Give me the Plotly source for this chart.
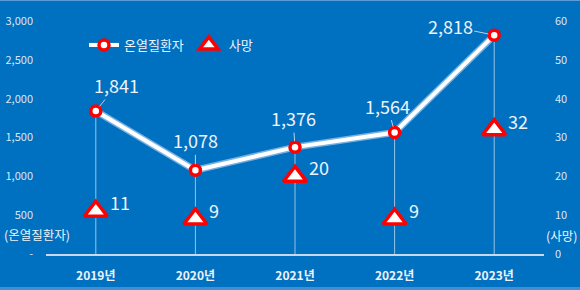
import plotly.graph_objects as go

years = ["2019년", "2020년", "2021년", "2022년", "2023년"]
patients = [1841, 1078, 1376, 1564, 2818]
deaths = [11, 9, 20, 9, 32]
left_ticks = [0, 500, 1000, 1500, 2000, 2500, 3000]
left_ticktext = ["-", "500", "1,000", "1,500", "2,000", "2,500", "3,000"]
right_ticks = [0, 10, 20, 30, 40, 50, 60]

# label offsets (pixels) for patient labels
lab_ax = [21, 0, -2, -7, -44]
lab_ay = [-26, -30, -29, -27, -9]

BG = "#0070C0"
FONT = "Noto Sans CJK KR"
TXT = "#EEF3FA"

W, H = 580, 290
ml, mr, mt, mb = 46, 36, 21, 36
pw, ph = W - ml - mr, H - mt - mb
def px(x): return (x - ml) / pw
def py(y): return (H - mb - y) / ph

fig = go.Figure()

# drop lines
fig.add_trace(go.Scatter(
    x=years, y=patients, mode="markers", marker=dict(size=1, opacity=0),
    error_y=dict(type="data", symmetric=False, array=[0]*5, arrayminus=patients,
                 color="rgba(230,240,250,0.65)", thickness=1, width=0),
    showlegend=False, hoverinfo="skip"))

# shadow
fig.add_trace(go.Scatter(
    x=years, y=patients, mode="lines",
    line=dict(color="rgba(170,205,240,0.7)", width=7),
    showlegend=False, hoverinfo="skip"))

fig.add_trace(go.Scatter(
    x=years, y=patients, mode="lines+markers", name="온열질환자",
    line=dict(color="white", width=4),
    marker=dict(symbol="circle", size=10, color="white",
                line=dict(color="#FF0000", width=3.5))))

fig.add_trace(go.Scatter(
    x=years, y=deaths, mode="markers", name="사망", yaxis="y2",
    marker=dict(symbol="triangle-up", size=20, color="white",
                line=dict(color="#FF0000", width=3.5))))

ann = []
for yr, v, ax, ay in zip(years, patients, lab_ax, lab_ay):
    ann.append(dict(x=yr, y=v, xref="x", yref="y", text=f"{v:,}",
                    showarrow=True, arrowhead=0, arrowwidth=1,
                    arrowcolor="rgba(225,235,248,0.8)", ax=ax, ay=ay,
                    standoff=6, font=dict(family=FONT, size=18, color=TXT)))
for yr, d in zip(years, deaths):
    ann.append(dict(x=yr, y=d, xref="x", yref="y2", text=str(d),
                    showarrow=False, xanchor="left", yanchor="middle",
                    xshift=12, yshift=9,
                    font=dict(family=FONT, size=18, color=TXT)))
ann.append(dict(x=px(2), y=py(234), xref="paper", yref="paper", text="(온열질환자)",
                showarrow=False, xanchor="left", yanchor="middle",
                font=dict(family=FONT, size=12.5, color=TXT)))
ann.append(dict(x=px(579), y=py(235), xref="paper", yref="paper", text="(사망)",
                showarrow=False, xanchor="right", yanchor="middle",
                font=dict(family=FONT, size=12.5, color=TXT)))

fig.update_layout(
    annotations=ann,
    width=W, height=H,
    margin=dict(l=ml, r=mr, t=mt, b=mb, autoexpand=False),
    paper_bgcolor=BG, plot_bgcolor=BG,
    font=dict(family=FONT, color=TXT),
    showlegend=True,
    legend=dict(orientation="h", x=px(84), y=py(45), xanchor="left", yanchor="middle",
                bgcolor="rgba(0,0,0,0)", font=dict(family=FONT, size=13, color=TXT),
                itemwidth=30),
    xaxis=dict(type="category", range=[-0.5, 4.5], automargin=False,
               showgrid=False, zeroline=False, showline=True,
               linecolor="#C8D9EE", linewidth=1.5, ticks="",
               tickfont=dict(family=FONT, size=12, color=TXT, weight="bold"),
               ticklabelstandoff=10),
    yaxis=dict(range=[0, 3000], tickvals=left_ticks, ticktext=left_ticktext,
               automargin=False, ticklabelstandoff=12,
               showgrid=False, zeroline=False, showline=False,
               tickfont=dict(family=FONT, size=11, color="#DDE7F3")),
    yaxis2=dict(range=[0, 60], tickvals=right_ticks, overlaying="y", side="right",
                automargin=False, ticklabelstandoff=10,
                showgrid=False, zeroline=False, showline=False,
                tickfont=dict(family=FONT, size=11, color="#DDE7F3")),
    shapes=[
        dict(type="line", xref="paper", yref="paper", x0=px(0), x1=px(W), y0=py(0.5), y1=py(0.5),
             line=dict(color="#5B9BD5", width=1)),
        dict(type="rect", xref="paper", yref="paper", x0=px(0), x1=px(W), y0=py(287), y1=py(290),
             fillcolor="#3F8ED6", line=dict(width=0), layer="below"),
    ],
)

fig.write_html("out.html")
